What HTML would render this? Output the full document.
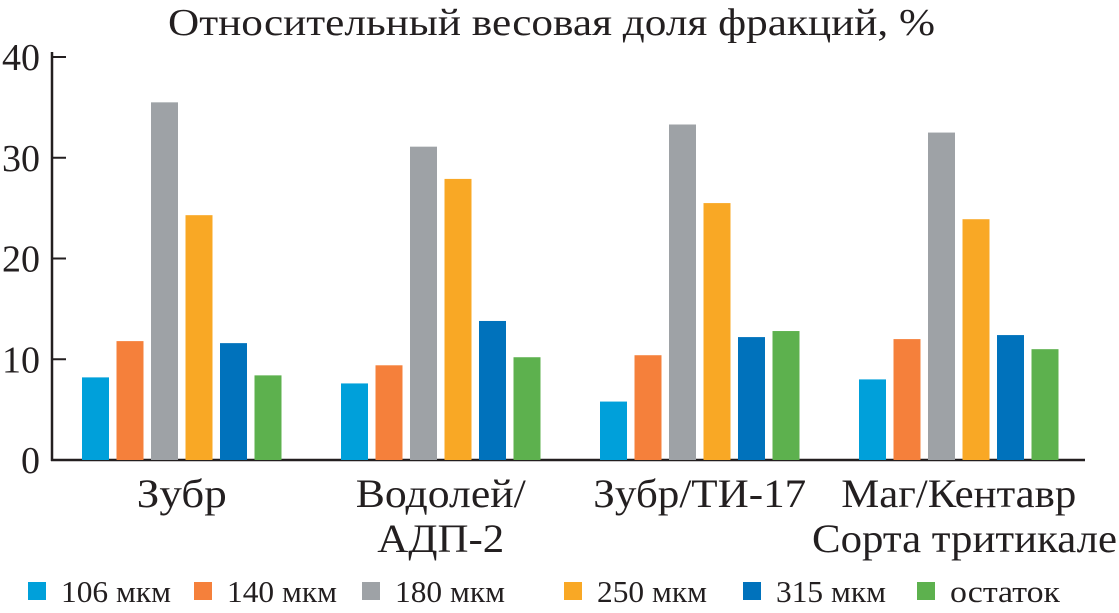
<!DOCTYPE html>
<html><head><meta charset="utf-8"><style>
body{margin:0;background:#fff;}
svg{display:block;font-family:"Liberation Serif","DejaVu Serif",serif;fill:#231f20;}
</style></head><body>
<svg id="c" width="1119" height="613">
<text x="168" y="35" font-size="38" textLength="767" lengthAdjust="spacingAndGlyphs">Относительный весовая доля фракций, %</text>
<g id="plot"></g>
</svg>
<script>
const categories=[["Зубр"],["Водолей/","АДП-2"],["Зубр/ТИ-17"],["Маг/Кентавр"]];
const seriesNames=["106 мкм","140 мкм","180 мкм","250 мкм","315 мкм","остаток"];
const colors=["#00a0da","#f5803b","#9ea2a6","#f9a825","#0072bc","#5db14e"];
const s106=[8.2,7.6,5.8,8.0];
const s140=[11.8,9.4,10.4,12.0];
const s180=[35.5,31.1,33.3,32.5];
const s250=[24.3,27.9,25.5,23.9];
const s315=[11.6,13.8,12.2,12.4];
const sRest=[8.4,10.2,12.8,11.0];
const series=[s106,s140,s180,s250,s315,sRest];
const yTicks=[0,10,20,30,40];
const NS="http://www.w3.org/2000/svg";
const g=document.getElementById('plot');
const y0=460,y40=57;
function y(v){return y0-(v/40)*(y0-y40);}
function groupX(i){return 82+i*259;}
function barX(i,j){return groupX(i)+j*34.5;}
function mk(t,a,p){const e=document.createElementNS(NS,t);for(const k in a)e.setAttribute(k,a[k]);(p||g).appendChild(e);return e;}
const catLabelW=[[90],[170,127],[213],[235]];
let ax=mk('line',{x1:52,y1:52,x2:52,y2:461,stroke:'#231f20','stroke-width':2.5});


let bx=mk('line',{x1:51,y1:460,x2:1085,y2:460,stroke:'#231f20','stroke-width':2.5});


yTicks.forEach(v=>{
  if(v>0){let t=mk('line',{x1:52,y1:y(v),x2:66,y2:y(v),stroke:'#231f20','stroke-width':2});
  
  }
  let l=mk('text',{x:40,y:y(v)+13,'font-size':38,'text-anchor':'end'});
  l.textContent=v;
  
  
});
series.forEach((s,j)=>{
  s.forEach((v,i)=>{
    let r=mk('rect',{x:barX(i,j),y:y(v),width:27,height:y0-y(v),fill:colors[j]});
    
    
  });
});
categories.forEach((c,i)=>{
  const cx=barX(i,0)+(barX(i,5)+27-barX(i,0))/2;
  c.forEach((line,k)=>{
    let t=mk('text',{x:cx,y:507+k*45,'font-size':40,'text-anchor':'middle',textLength:catLabelW[i][k],lengthAdjust:'spacingAndGlyphs'});
    t.textContent=line;
    
    
  });
});
let xt=mk('text',{x:812,y:552,'font-size':40,textLength:305,lengthAdjust:'spacingAndGlyphs'});
xt.textContent="Сорта тритикале";


const legX=[28,194,362,564,743,917];
seriesNames.forEach((n,j)=>{
  let r=mk('rect',{x:legX[j],y:582,width:18,height:18,fill:colors[j]});
  
  
  let t=mk('text',{x:legX[j]+33,y:602,'font-size':31,textLength:110,lengthAdjust:'spacingAndGlyphs'});
  t.textContent=n;
  
  
});
</script>
</body></html>
